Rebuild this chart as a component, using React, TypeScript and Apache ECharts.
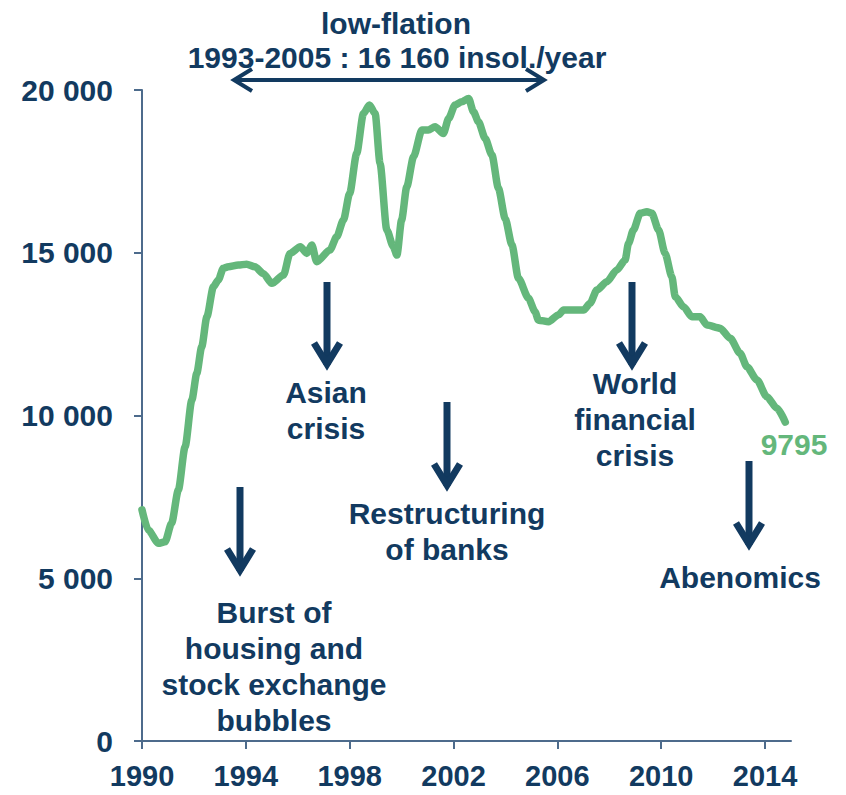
import React, { useEffect, useRef } from "react";
import * as echarts from "echarts";

// Japan: insolvencies, 12-month total
const years = [1990.0, 1990.24, 1990.63, 1990.89, 1991.14, 1991.4, 1991.66, 1991.92, 1992.11, 1992.3, 1992.5, 1992.75, 1992.94, 1993.13, 1993.33, 1993.71, 1994.03, 1994.35, 1994.67, 1995.0, 1995.45, 1995.7, 1996.1, 1996.35, 1996.54, 1996.73, 1997.24, 1997.5, 1997.76, 1998.0, 1998.27, 1998.53, 1998.76, 1998.98, 1999.17, 1999.43, 1999.68, 1999.82, 2000.0, 2000.2, 2000.46, 2000.78, 2001.03, 2001.29, 2001.61, 2001.81, 2002.06, 2002.32, 2002.58, 2002.77, 2002.96, 2003.22, 2003.48, 2003.73, 2003.99, 2004.25, 2004.5, 2004.89, 2005.14, 2005.27, 2005.66, 2006.04, 2006.24, 2006.62, 2007.01, 2007.26, 2007.52, 2007.91, 2008.29, 2008.61, 2008.74, 2008.93, 2009.19, 2009.45, 2009.64, 2009.9, 2010.15, 2010.41, 2010.54, 2010.86, 2011.18, 2011.5, 2011.76, 2012.27, 2012.66, 2013.04, 2013.3, 2013.69, 2014.07, 2014.46, 2014.78];
const insolvencies = [7100, 6480, 6075, 6120, 6690, 7710, 9040, 10475, 11295, 12110, 13035, 13955, 14160, 14520, 14570, 14620, 14650, 14570, 14365, 14060, 14315, 14980, 15185, 14980, 15240, 14725, 15085, 15490, 16005, 16825, 18055, 19280, 19540, 19280, 17745, 15700, 15185, 14930, 16005, 17030, 17950, 18770, 18770, 18870, 18665, 19125, 19540, 19640, 19740, 19330, 19025, 18510, 18000, 16980, 16055, 15240, 14215, 13600, 13190, 12930, 12880, 13090, 13240, 13240, 13240, 13445, 13855, 14110, 14470, 14775, 15290, 15700, 16210, 16260, 16210, 15700, 14980, 14265, 13650, 13340, 13035, 13035, 12780, 12680, 12370, 11910, 11500, 11090, 10575, 10220, 9795];
const xTickYears = [1990, 1994, 1998, 2002, 2006, 2010, 2014];
const lastLabel = "9795";
const titleLines = ["low-flation", "1993-2005 : 16 160 insol./year"];

const NAVY = "#123a60";
const GREEN = "#64b77b";
const AXIS = "#4d6b8c";
const FONT = '"Liberation Sans", Arial, Helvetica, sans-serif';

function fmtThousands(v: number): string {
  if (v === 0) return "0";
  const th = Math.floor(v / 1000);
  const rest = String(v % 1000).padStart(3, "0");
  return th + " " + rest;
}

function textEl(text: string, x: number, y: number, size = 30, fill = NAVY, lineHeight = 36) {
  return {
    type: "text",
    x,
    y,
    z: 10,
    style: {
      text,
      fill,
      fontSize: size,
      fontWeight: "bold",
      fontFamily: FONT,
      align: "center",
      verticalAlign: "middle",
      lineHeight,
    },
  };
}

function downArrow(x: number, yTop: number, yTip: number) {
  return [
    {
      type: "line",
      z: 10,
      shape: { x1: x, y1: yTop, x2: x, y2: yTip - 3 },
      style: { stroke: NAVY, lineWidth: 7 },
    },
    {
      type: "polyline",
      z: 10,
      shape: { points: [[x - 13, yTip - 25], [x, yTip - 4], [x + 13, yTip - 25]] },
      style: { stroke: NAVY, lineWidth: 7, fill: null, lineJoin: "miter", lineCap: "butt" },
    },
  ];
}

export default function App() {
  const ref = useRef<HTMLDivElement | null>(null);

  useEffect(() => {
    document.body.style.margin = "0";
    if (!ref.current) return;
    const chart = echarts.init(ref.current, null, { renderer: "svg" });

    const data = years.map((y, i) => [y, insolvencies[i]]);

    const graphics: any[] = [
      textEl(titleLines[0], 396, 23),
      textEl(titleLines[1], 397, 57),
      {
        type: "line",
        z: 10,
        shape: { x1: 235, y1: 80, x2: 543, y2: 80 },
        style: { stroke: NAVY, lineWidth: 4 },
      },
      {
        type: "polyline",
        z: 10,
        shape: { points: [[252, 69], [234, 80], [252, 91]] },
        style: { stroke: NAVY, lineWidth: 4, fill: null },
      },
      {
        type: "polyline",
        z: 10,
        shape: { points: [[526, 69], [544, 80], [526, 91]] },
        style: { stroke: NAVY, lineWidth: 4, fill: null },
      },
      ...downArrow(327, 282, 368),
      textEl("Asian\ncrisis", 326, 410),
      ...downArrow(240, 487, 574),
      textEl("Burst of\nhousing and\nstock exchange\nbubbles", 274, 666),
      ...downArrow(447, 402, 489),
      textEl("Restructuring\nof banks", 447, 531),
      ...downArrow(632, 282, 368),
      textEl("World\nfinancial\ncrisis", 635, 419),
      ...downArrow(749, 461, 548),
      textEl("Abenomics", 740, 577),
      textEl(lastLabel, 794, 444, 30, GREEN),
    ];

    chart.setOption({
      animation: false,
      backgroundColor: "#ffffff",
      grid: { left: 142, right: 55, top: 90, bottom: 54, containLabel: false },
      xAxis: {
        type: "value",
        min: 1990,
        max: 2015,
        splitLine: { show: false },
        axisLine: { show: true, lineStyle: { color: AXIS, width: 2 } },
        axisTick: {
          show: true,
          length: 8,
          inside: false,
          customValues: xTickYears,
          lineStyle: { color: AXIS, width: 2 },
        },
        axisLabel: {
          show: true,
          customValues: xTickYears,
          margin: 20,
          color: NAVY,
          fontSize: 29,
          fontWeight: "bold",
          fontFamily: FONT,
          formatter: (v: number) => String(Math.round(v)),
        },
      },
      yAxis: {
        type: "value",
        min: 0,
        max: 20000,
        interval: 5000,
        splitLine: { show: false },
        axisLine: { show: true, lineStyle: { color: AXIS, width: 2 } },
        axisTick: { show: true, length: 8, inside: false, lineStyle: { color: AXIS, width: 2 } },
        axisLabel: {
          margin: 29,
          color: NAVY,
          fontSize: 30,
          fontWeight: "bold",
          fontFamily: FONT,
          formatter: (v: number) => fmtThousands(v),
        },
      },
      series: [
        {
          type: "line",
          data,
          showSymbol: false,
          symbol: "none",
          smooth: 0.25,
          smoothMonotone: "x",
          lineStyle: { color: GREEN, width: 7.5, cap: "round", join: "round" },
          z: 5,
        },
      ],
      graphic: graphics,
    });

    return () => chart.dispose();
  }, []);

  return <div ref={ref} style={{ width: 846, height: 795 }} />;
}
